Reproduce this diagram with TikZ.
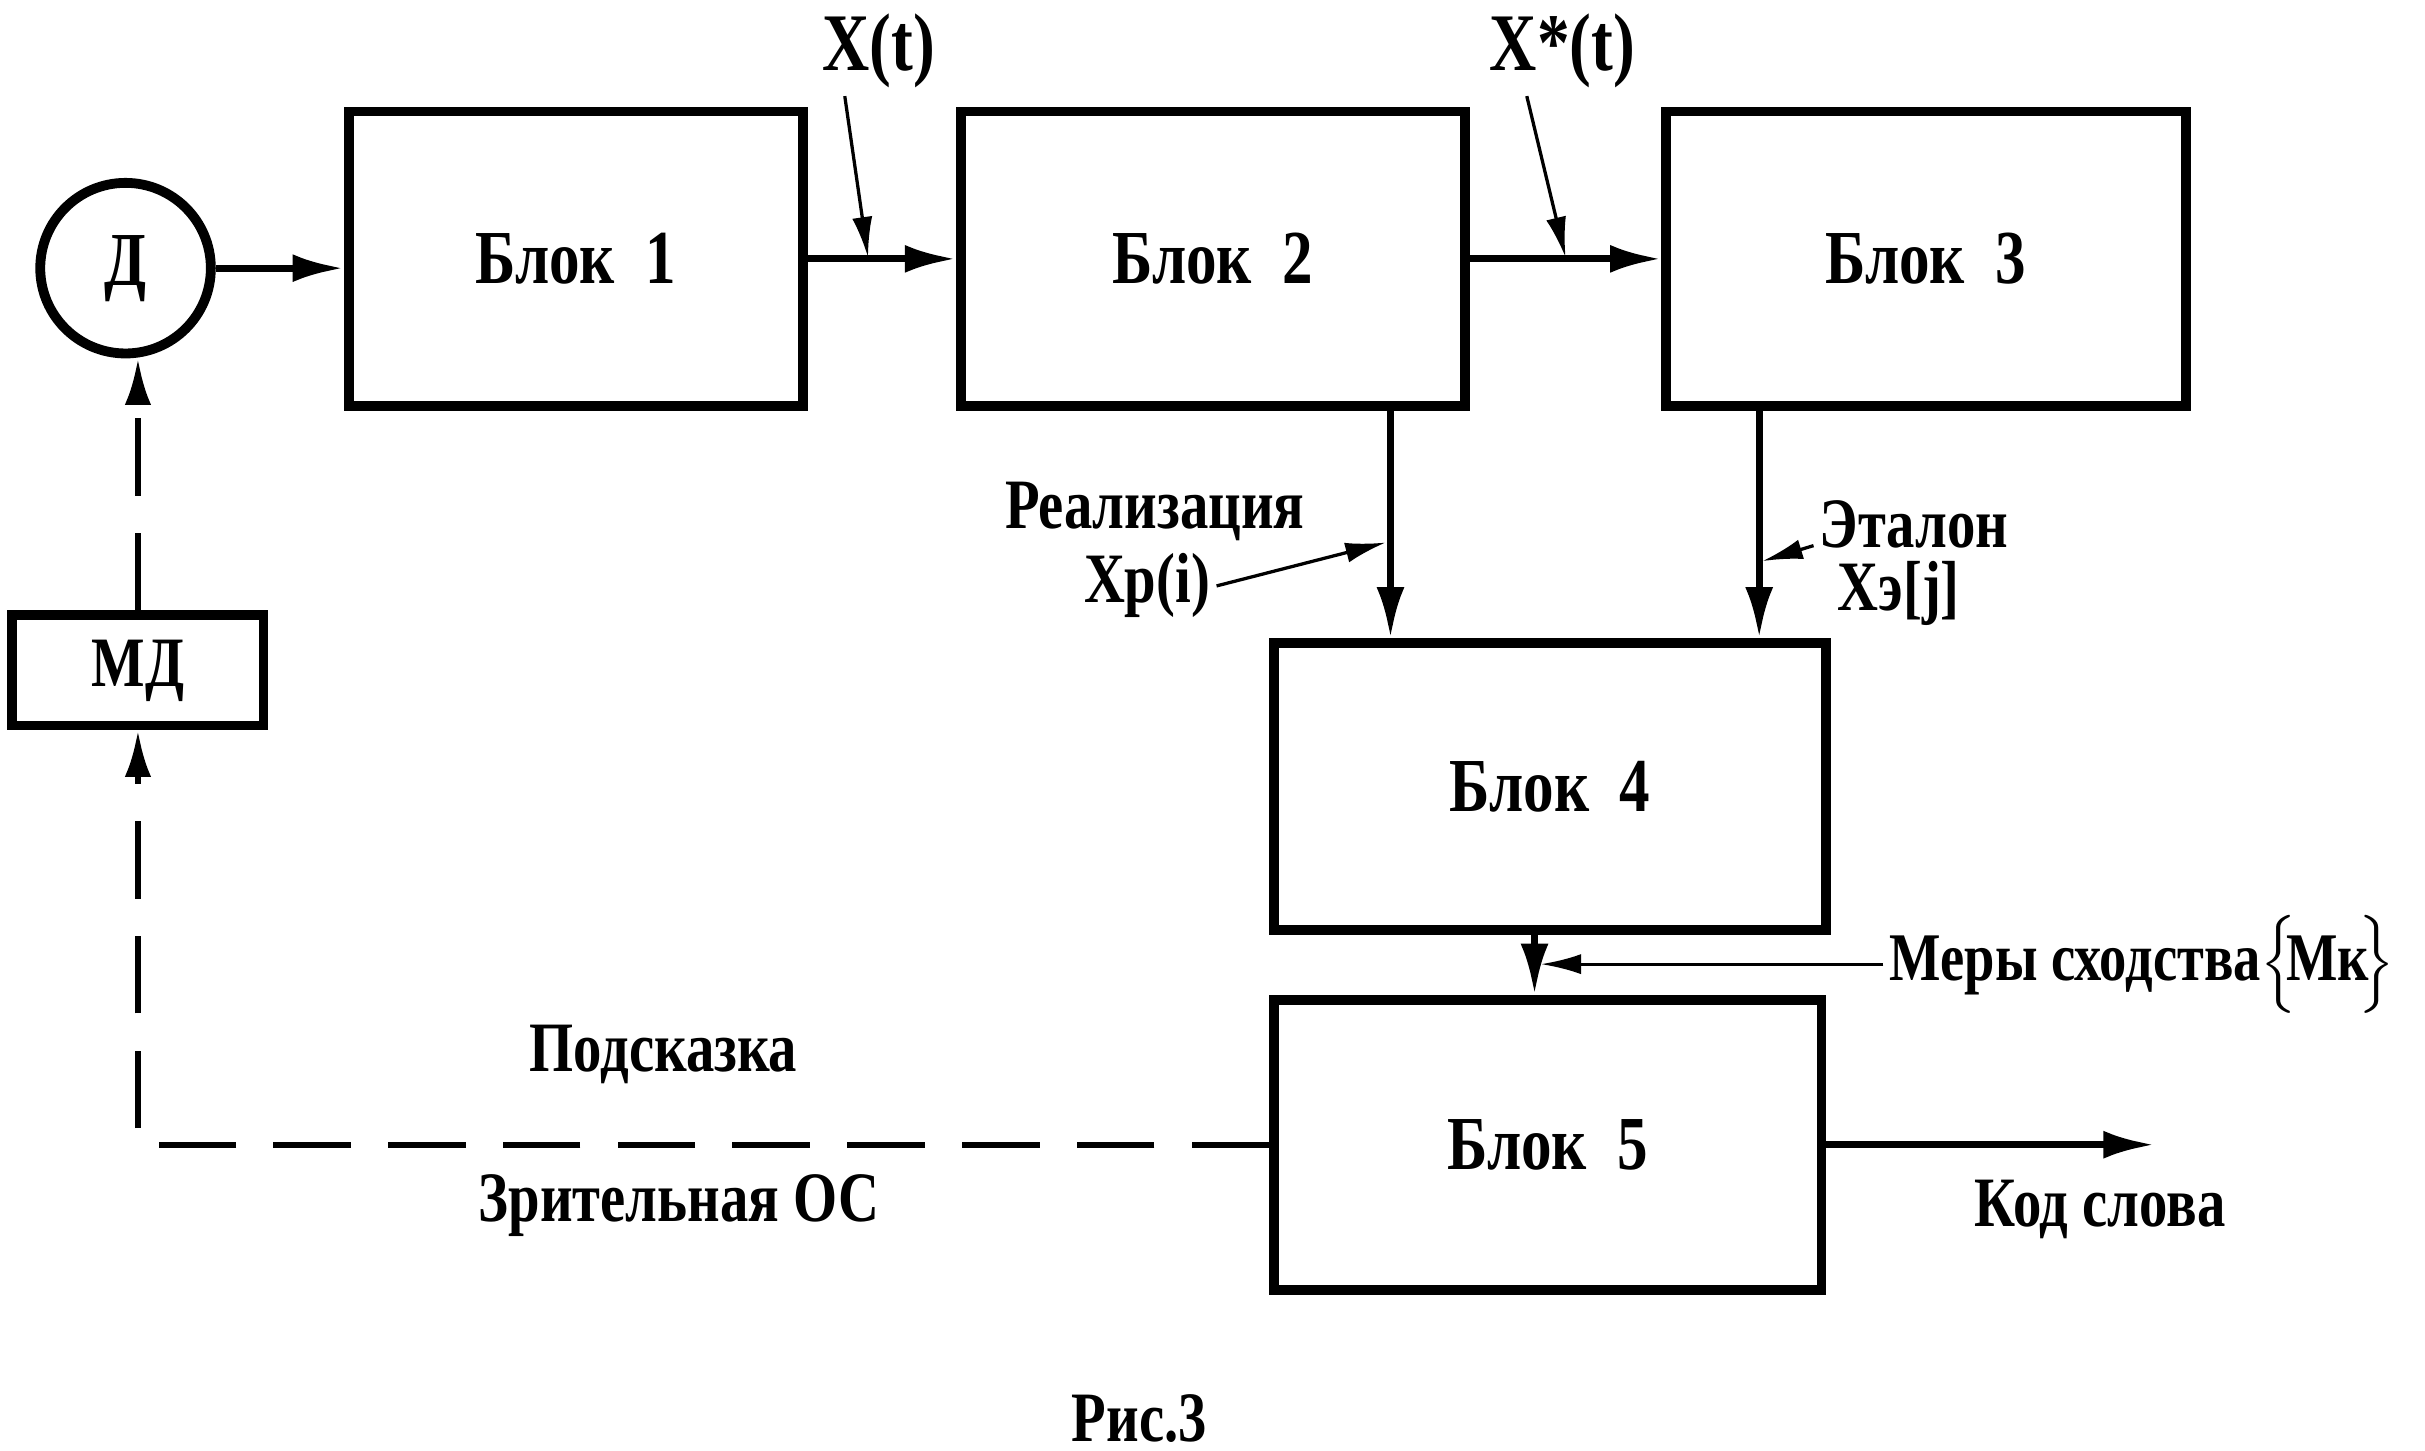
\documentclass[tikz,border=0pt]{standalone}
\usepackage{fontspec}
\setmainfont{Liberation Serif}[FakeStretch=0.8]
\usetikzlibrary{arrows.meta,calc}

\begin{document}
\begin{tikzpicture}[x=0.01cm,y=-0.01cm,
    blok/.style={draw,line width=1.8pt,minimum width=#1,minimum height=1.9cm,inner sep=0pt,font=\bfseries\fontsize{14}{16}\selectfont},
    lbl/.style={font=\bfseries\fontsize{13}{15}\selectfont,inner sep=1pt},
    arr/.style={line width=1.3pt,-{Latex[length=3.3mm,width=1.8mm]}},
    ptr/.style={line width=0.6pt,-{Latex[length=2.6mm,width=1.3mm]}},
    fb/.style={line width=1.1pt,dash pattern=on 0.5cm off 0.24cm}]
    \useasboundingbox (0,0) rectangle (1564.5,935.5);
    % блоки
    \node[circle,draw,line width=1.8pt,minimum size=1.1cm,inner sep=0pt,font=\bfseries\fontsize{14}{16}\selectfont] (d) at (81,173) {Д};
    \node[blok=2.93cm] (b1) at (371.5,167) {Блок~~1};
    \node[blok=3.25cm] (b2) at (782.5,167) {Блок~~2};
    \node[blok=3.35cm] (b3) at (1242.5,167) {Блок~~3};
    \node[blok=3.56cm,minimum height=1.85cm] (b4) at (1000,507.5) {Блок~~4};
    \node[blok=3.53cm,minimum height=1.87cm] (b5) at (998.5,738.5) {Блок~~5};
    \node[blok=1.62cm,minimum height=0.71cm,font=\bfseries\fontsize{13}{15}\selectfont] (md) at (89,432.5) {МД};
    % прямые связи
    \draw[arr] (d.east) -- (d.east -| b1.west);
    \draw[arr] (b1.east) -- (b2.west);
    \draw[arr] (b2.east) -- (b3.west);
    \draw[arr] ([xshift=1.145cm]b2.south) -- ([xshift=1.145cm]b2.south |- b4.north);
    \draw[arr] ([xshift=-1.075cm]b3.south) -- ([xshift=-1.075cm]b3.south |- b4.north);
    \draw[arr] ([xshift=-0.1cm]b4.south) -- ([xshift=-0.1cm]b4.south |- b5.north);
    \coordinate (out) at (1390,738.5);
    \draw[arr] (b5.east) -- (out);
    % зрительная обратная связь
    \draw[fb,-{Latex[length=3mm,width=1.7mm]}] (b5.west) -- (md.south |- b5.west) -- (md.south);
    \draw[fb,-{Latex[length=3mm,width=1.7mm]}] (md.north) -- (md.north |- d.south);
    % надписи
    \node[lbl,font=\bfseries\fontsize{15}{17}\selectfont] (xt) at (567,33) {X(t)};
    \node[lbl,font=\bfseries\fontsize{15}{17}\selectfont] (xst) at (1008,33) {X*(t)};
    \coordinate (xt1) at (545,62); \coordinate (xt2) at (560,166);
    \coordinate (xst1) at (985,62); \coordinate (xst2) at (1010,166);
    \draw[ptr] (xt1) -- (xt2);
    \draw[ptr] (xst1) -- (xst2);
    \node[lbl] (real) at (745,330) {Реализация};
    \node[lbl] (xr) at (740,378) {Xр(i)};
    \coordinate (xr2) at (894,350);
    \draw[ptr] (xr.east) -- (xr2);
    \node[lbl] (etal) at (1235,338) {Эталон};
    \node[lbl] (xe) at (1225,383) {Xэ[j]};
    \coordinate (xe1) at (1170,352); \coordinate (xe2) at (1137,362);
    \draw[ptr] (xe1) -- (xe2);
    \node[lbl,anchor=west,font=\bfseries\fontsize{12.5}{14}\selectfont] (mery) at (1215,622) {Меры сходства$\Bigl\{\!$Мк$\!\Bigr\}$};
    \coordinate (mery2) at (994,622);
    \draw[ptr] (mery.west) -- (mery2);
    \node[lbl] (kod) at (1355,780) {Код слова};
    \node[lbl] (podsk) at (428,680) {Подсказка};
    \node[lbl] (zos) at (438,778) {Зрительная ОС};
    \node[lbl] (ris) at (735,915) {Рис.3};
\end{tikzpicture}
\end{document}
